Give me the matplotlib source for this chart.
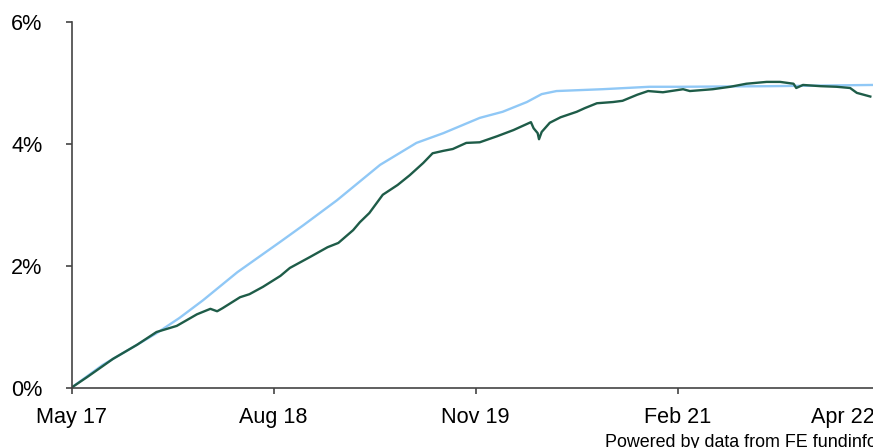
import matplotlib
matplotlib.use('Agg')
import matplotlib.pyplot as plt

plt.rcParams['font.family'] = ['Liberation Sans', 'DejaVu Sans']

# months since May 2017
blue_x = [0, 2.3, 4.85, 6.3, 8.0, 9.75, 12.3, 15.5, 17.2, 19.7, 22.9, 25.6, 27.6,
          30.3, 32.0, 33.8, 34.9, 36.0, 39.4, 42.9, 45.2, 51.9, 59.5]
blue_y = [0, 0.37, 0.70, 0.89, 1.14, 1.43, 1.89, 2.39, 2.66, 3.07, 3.65, 4.01, 4.17,
          4.42, 4.52, 4.68, 4.81, 4.86, 4.89, 4.93, 4.93, 4.94, 4.96]

green_x = [0, 1.14, 2.3, 3.07, 4.85, 6.3, 7.8, 9.3, 10.3, 10.8, 11.2, 12.5, 13.2,
           14.2, 15.5, 16.2, 17.7, 19.0, 19.8, 20.9, 21.4, 22.1, 23.1, 24.2, 25.1,
           26.1, 26.8, 27.6, 28.3, 29.3, 30.3, 31.6, 32.8, 34.1, 34.3, 34.6, 34.7,
           34.9, 35.5, 36.3, 37.5, 38.1, 39.0, 40.2, 40.9, 42.0, 42.8, 43.9, 45.4,
           45.9, 47.6, 48.9, 50.1, 51.6, 52.6, 53.6, 53.8, 54.3, 55.6, 56.8, 57.8,
           58.3, 59.3]
green_y = [0, 0.17, 0.35, 0.47, 0.70, 0.91, 1.01, 1.20, 1.29, 1.25, 1.30, 1.48, 1.53,
           1.65, 1.83, 1.96, 2.14, 2.30, 2.37, 2.58, 2.71, 2.86, 3.16, 3.32, 3.48,
           3.68, 3.84, 3.88, 3.91, 4.01, 4.02, 4.12, 4.22, 4.35, 4.25, 4.17, 4.07,
           4.19, 4.34, 4.43, 4.52, 4.58, 4.66, 4.68, 4.70, 4.80, 4.86, 4.84, 4.89,
           4.86, 4.89, 4.93, 4.98, 5.01, 5.01, 4.98, 4.91, 4.96, 4.94, 4.93, 4.91,
           4.83, 4.77]

tick_pos = [0, 15, 30, 45, 57.3]
tick_labels = ['May 17', 'Aug 18', 'Nov 19', 'Feb 21', 'Apr 22']
y_ticks = [0, 2, 4, 6]

fig = plt.figure(figsize=(8.73, 4.48), dpi=100)
ax = fig.add_axes([0.0821, 0.135, 0.9179, 0.817])

ax.plot(blue_x, blue_y, color='#90c8f6', lw=1.7)
ax.plot(green_x, green_y, color='#1e5c48', lw=1.7)

ax.set_xlim(0, 59.5)
ax.set_ylim(0, 6)

for s in ['top', 'right']:
    ax.spines[s].set_visible(False)
for s in ['left', 'bottom']:
    ax.spines[s].set_color('#444444')
    ax.spines[s].set_linewidth(1.2)

ax.set_yticks(y_ticks)
ax.set_yticklabels([f'{v}%' for v in y_ticks])
ax.set_xticks(tick_pos)
ax.set_xticklabels(tick_labels)
ax.tick_params(axis='both', colors='#444444', labelcolor='black', labelsize=15.6,
               length=4, width=1.2)
ax.tick_params(axis='y', pad=17)
ax.tick_params(axis='x', pad=10)
# last label has no tick mark
ax.xaxis.get_major_ticks()[-1].tick1line.set_visible(False)

fig.text(605 / 873, 1 / 448, 'Powered by data from FE fundinfo', fontsize=12.9,
         ha='left', va='baseline')

fig.savefig('out.png', dpi=100)
